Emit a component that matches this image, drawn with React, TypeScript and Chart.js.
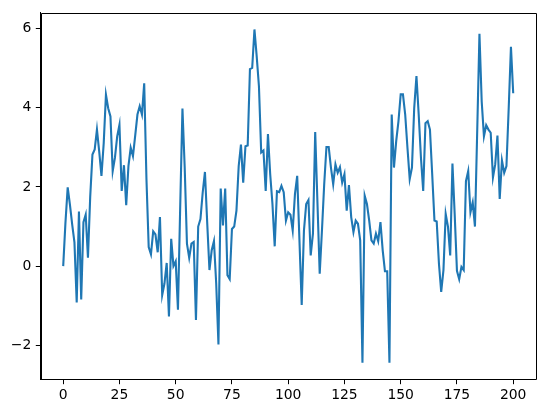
import React, { useEffect, useRef } from "react";
import { Chart, registerables } from "chart.js";

Chart.register(...registerables);

const values: number[] = [
  0, 1.1, 1.99, 1.55, 1.05, 0.6, -0.92, 1.38, -0.84, 1.11,
  1.3, 0.21, 1.75, 2.82, 2.95, 3.45, 2.9, 2.28, 3.1, 4.33,
  3.99, 3.78, 2.4, 2.74, 3.28, 3.57, 1.9, 2.55, 1.54, 2.53,
  2.99, 2.78, 3.3, 3.83, 4.04, 3.83, 4.62, 2.2, 0.48, 0.3,
  0.88, 0.8, 0.35, 1.24, -0.73, -0.44, 0.08, -1.27, 0.69, 0,
  0.12, -1.1, 1.5, 3.98, 2.49, 0.57, 0.21, 0.57, 0.61, -1.36,
  1.0, 1.19, 1.86, 2.38, 1.1, -0.1, 0.4, 0.63, -0.44, -1.98,
  1.96, 1.03, 1.96, -0.23, -0.33, 0.94, 1.0, 1.4, 2.53, 3.07,
  2.11, 3.03, 3.05, 4.98, 5.01, 5.98, 5.3, 4.54, 2.87, 2.92,
  1.9, 3.34, 2.32, 1.57, 0.5, 1.89, 1.87, 2.03, 1.87, 1.15,
  1.36, 1.3, 0.9, 1.82, 2.28, 0.65, -0.98, 0.9, 1.57, 1.67,
  0.27, 0.82, 3.39, 1.6, -0.19, 0.9, 2.07, 3.01, 3.01, 2.49,
  2.07, 2.57, 2.36, 2.5, 2.11, 2.32, 1.4, 2.05, 1.24, 0.86,
  1.15, 1.07, 0.65, -2.44, 1.78, 1.57, 1.15, 0.65, 0.57, 0.82,
  0.63, 1.11, 0.4, -0.13, -0.13, -2.44, 3.83, 2.49, 3.16, 3.66,
  4.34, 4.34, 3.83, 2.99, 2.2, 2.49, 3.99, 4.8, 3.83, 2.74,
  1.9, 3.61, 3.66, 3.45, 2.32, 1.15, 1.13, 0.06, -0.65, -0.1,
  1.32, 1.0, 0.27, 2.59, 1.3, -0.12, -0.33, -0.02, -0.1, 2.15,
  2.4, 1.36, 1.61, 1.0, 3.4, 5.87, 4.16, 3.28, 3.56, 3.45,
  3.37, 2.24, 2.57, 3.3, 1.7, 2.67, 2.36, 2.53, 3.99, 5.54,
  4.37,
];

const steps: number[] = values.map((_, i) => i);
const xTicks: number[] = [0, 25, 50, 75, 100, 125, 150, 175, 200];
const yTicks: number[] = [-2, 0, 2, 4, 6];

const W = 546;
const H = 413;

const framePlugin = {
  id: "frame",
  afterDraw(chart: any) {
    const { ctx, chartArea } = chart;
    ctx.save();
    ctx.strokeStyle = "#000";
    ctx.lineWidth = 1;
    ctx.beginPath();
    ctx.rect(
      Math.round(chartArea.left) + 0.5,
      Math.round(chartArea.top) + 0.5,
      Math.round(chartArea.right - chartArea.left),
      Math.round(chartArea.bottom - chartArea.top)
    );
    ctx.stroke();
    ctx.restore();
  },
};

export default function App() {
  const ref = useRef<HTMLCanvasElement | null>(null);

  useEffect(() => {
    if (!ref.current) return;
    const font = { family: "'DejaVu Sans', sans-serif", size: 13.9 };
    const chart = new Chart(ref.current, {
      type: "line",
      data: {
        datasets: [
          {
            data: steps.map((s, i) => ({ x: s, y: values[i] })),
            borderColor: "#1f77b4",
            borderWidth: 2.1,
            pointRadius: 0,
            tension: 0,
            fill: false,
          },
        ],
      },
      options: {
        responsive: false,
        animation: false,
        events: [],
        layout: { padding: { top: 9, right: 10.3, left: 0, bottom: 0 } },
        plugins: { legend: { display: false }, tooltip: { enabled: false } },
        scales: {
          x: {
            type: "linear",
            min: -10,
            max: 210,
            afterBuildTicks: (scale: any) => {
              scale.ticks = xTicks.map((v) => ({ value: v }));
            },
            afterFit: (scale: any) => {
              scale.height = H - 379.3;
            },
            grid: {
              display: true,
              drawOnChartArea: false,
              drawTicks: true,
              tickLength: 4.9,
              color: "#000",
            },
            border: { display: true, color: "#000", width: 1 },
            ticks: {
              color: "#000",
              font,
              padding: 3,
              maxRotation: 0,
              autoSkip: false,
            },
          },
          y: {
            type: "linear",
            min: -2.86,
            max: 6.4,
            afterBuildTicks: (scale: any) => {
              scale.ticks = yTicks.map((v) => ({ value: v }));
            },
            afterFit: (scale: any) => {
              scale.width = 40.7;
            },
            grid: {
              display: true,
              drawOnChartArea: false,
              drawTicks: true,
              tickLength: 4.9,
              color: "#000",
            },
            border: { display: true, color: "#000", width: 1 },
            ticks: {
              color: "#000",
              font,
              padding: 4.5,
              autoSkip: false,
              callback: (v: any) => String(v).replace("-", "\u2212"),
            },
          },
        },
      },
      plugins: [framePlugin],
    });
    return () => chart.destroy();
  }, []);

  return (
    <div style={{ position: "absolute", left: 0, top: 0, width: W, height: H, background: "#fff" }}>
      <canvas ref={ref} width={W} height={H} style={{ width: W, height: H, display: "block" }} />
    </div>
  );
}
